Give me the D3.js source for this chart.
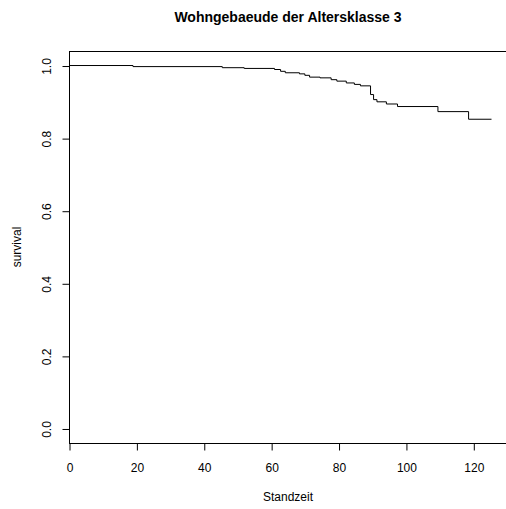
<!DOCTYPE html>
<html>
<head>
<meta charset="utf-8">
<script src="https://cdn.jsdelivr.net/npm/d3@7"></script>
<style>
html,body{margin:0;padding:0;background:#fff;}
svg{display:block;}
text{font-family:"Liberation Sans",Arial,Helvetica,sans-serif;fill:#000;}
</style>
</head>
<body>
<script>
// Step survival curve (time of step, survival after step)
const times = [0, 19, 45.5, 52, 61, 62.8, 64.2, 68.4, 70, 71.4, 74.5, 77.8, 79.5, 82.3, 84.7, 86.5, 89.5, 90.4, 91.4, 94.2, 97.5, 109.5, 118.6];
const surv  = [1.0, 0.997, 0.994, 0.992, 0.989, 0.984, 0.980, 0.977, 0.973, 0.968, 0.966, 0.961, 0.957, 0.952, 0.948, 0.944, 0.920, 0.906, 0.900, 0.894, 0.887, 0.873, 0.852];
const endTime = 125.4;
const xTicks = [0, 20, 40, 60, 80, 100, 120];
const yTicks = [0.0, 0.2, 0.4, 0.6, 0.8, 1.0];
const title = "Wohngebaeude der Altersklasse 3";
const xLabel = "Standzeit";
const yLabel = "survival";

const W = 506, H = 509;
const svg = d3.select("body").append("svg").attr("width", W).attr("height", H);

const x = d3.scaleLinear().domain([0, 130]).range([69, 507]);
const y = d3.scaleLinear().domain([-0.04, 1.04]).range([443, 51]);

// frame lines
const g = svg.append("g");
g.append("line").attr("x1", x(0)).attr("x2", W).attr("y1", y(1.04)+0.5).attr("y2", y(1.04)+0.5).attr("stroke", "#000");
g.append("line").attr("x1", x(0)).attr("x2", W).attr("y1", y(-0.04)+0.5).attr("y2", y(-0.04)+0.5).attr("stroke", "#000");
g.append("line").attr("x1", x(0)+0.5).attr("x2", x(0)+0.5).attr("y1", y(1.04)).attr("y2", y(-0.04)+1).attr("stroke", "#000");

// x axis
const xAxis = d3.axisBottom(x).tickValues(xTicks).tickSize(7).tickPadding(13).tickFormat(d3.format("d"));
const gx = svg.append("g").attr("transform", `translate(0.5,${y(-0.04)+0.5})`).call(xAxis);
gx.select(".domain").remove();
gx.selectAll("text").attr("font-size", 12).attr("font-family", "Liberation Sans, Arial, sans-serif");

// y axis
const yAxis = d3.axisLeft(y).tickValues(yTicks).tickSize(7).tickFormat(d3.format(".1f"));
const gy = svg.append("g").attr("transform", `translate(${x(0)+0.5},0.5)`).call(yAxis);
gy.select(".domain").remove();
gy.selectAll(".tick text")
  .attr("font-size", 12).attr("font-family", "Liberation Sans, Arial, sans-serif")
  .attr("x", null).attr("dy", null)
  .attr("text-anchor", "middle")
  .attr("transform", "translate(-23,0) rotate(-90)")
  .attr("dominant-baseline", "central");

// survival step line
const pts = times.map((t, i) => [t, surv[i]]);
pts.push([endTime, surv[surv.length - 1]]);
const line = d3.line().x(d => x(d[0])).y(d => y(d[1])).curve(d3.curveStepAfter);
svg.append("path").datum(pts).attr("d", line).attr("fill", "none").attr("stroke", "#000").attr("stroke-width", 1);

// title and labels
svg.append("text").attr("x", 288).attr("y", 22).attr("text-anchor", "middle")
  .attr("font-size", 14).attr("font-weight", "bold").text(title);
svg.append("text").attr("x", 288).attr("y", 501).attr("text-anchor", "middle")
  .attr("font-size", 12).text(xLabel);
svg.append("text").attr("transform", `translate(21,${(51+443)/2}) rotate(-90)`).attr("text-anchor", "middle")
  .attr("font-size", 12).text(yLabel);
</script>
</body>
</html>
